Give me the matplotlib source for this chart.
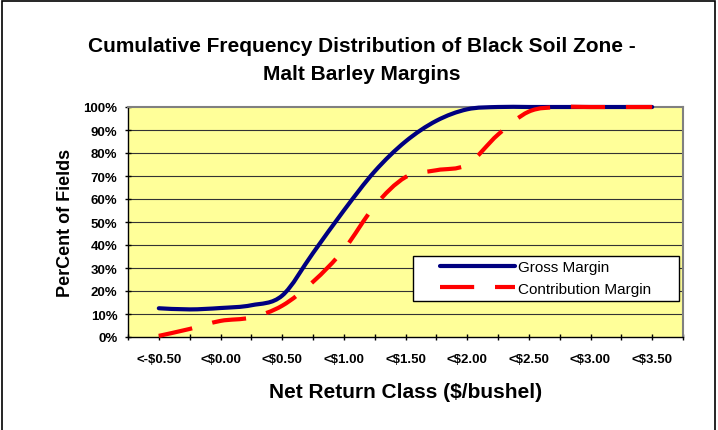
import matplotlib
matplotlib.use("Agg")
import matplotlib.pyplot as plt
from matplotlib.path import Path
from matplotlib.patches import PathPatch, Rectangle
from matplotlib.lines import Line2D

plt.rcParams.update({
    'font.family': ['Liberation Sans', 'DejaVu Sans'],
    'figure.facecolor': 'white',
})

# --- datos ---
clases = ['<-$0.50', '<-$0.25', '<$0.00', '<$0.25', '<$0.50', '<$0.75',
          '<$1.00', '<$1.25', '<$1.50', '<$1.75', '<$2.00', '<$2.25',
          '<$2.50', '<$2.75', '<$3.00', '<$3.25', '<$3.50']
gross = [12.5, 12.0, 12.6, 13.8, 18.0, 36.5, 55.0, 72.0, 85.0, 94.0,
         99.0, 100, 100, 100, 100, 100, 100]
contribution = [0.5, 3.5, 7.0, 8.5, 13.6, 24.0, 38.0, 57.0, 69.5, 72.5,
                75.0, 88.0, 98.0, 100, 100, 100, 100]
y_ticks = list(range(0, 101, 10))

NAVY = '#000080'
RED = '#FF0000'
DASH = (0, (8.2, 5.0))


def curva_suave(xs, ys):
    """Path bezier tipo Excel (Catmull-Rom) a traves de los puntos."""
    n = len(xs)
    pts = list(zip(xs, ys))
    verts = [pts[0]]
    codes = [Path.MOVETO]
    for i in range(n - 1):
        p0 = pts[max(i - 1, 0)]
        p1 = pts[i]
        p2 = pts[i + 1]
        p3 = pts[min(i + 2, n - 1)]
        c1 = (p1[0] + (p2[0] - p0[0]) / 6.0, p1[1] + (p2[1] - p0[1]) / 6.0)
        c2 = (p2[0] - (p3[0] - p1[0]) / 6.0, p2[1] - (p3[1] - p1[1]) / 6.0)
        verts += [c1, c2, p2]
        codes += [Path.CURVE4] * 3
    return Path(verts, codes)


W, H = 718, 431
fig = plt.figure(figsize=(W / 100, H / 100), dpi=100)
ax = fig.add_axes([128 / W, 1 - 338 / H, 555 / W, 230 / H])
ax.set_facecolor('#FFFF99')

x = list(range(len(clases)))

for yv in y_ticks[1:-1]:
    ax.axhline(yv, color='#333333', lw=0.8, zorder=1)

ax.add_patch(PathPatch(curva_suave(x, gross), facecolor='none', edgecolor=NAVY,
                       lw=3, clip_on=False, zorder=3, capstyle='round'))
ax.add_patch(PathPatch(curva_suave(x, contribution), facecolor='none', edgecolor=RED,
                       lw=3, linestyle=DASH, clip_on=False, zorder=4, capstyle='butt'))

ax.set_xlim(-1, len(clases))
ax.set_ylim(0, 100)
ax.set_xticks(range(-1, len(clases) + 1))
ax.set_xticklabels([''] + [c if i % 2 == 0 else '' for i, c in enumerate(clases)] + [''])
ax.set_yticks(y_ticks)
ax.set_yticklabels([f'{v}%' for v in y_ticks])
for lab in ax.get_xticklabels() + ax.get_yticklabels():
    lab.set_fontweight('bold')
    lab.set_fontsize(9.5)
ax.tick_params(axis='both', direction='inout', length=5, width=1, color='black')
ax.tick_params(axis='x', pad=9)
ax.tick_params(axis='y', pad=5)

for s in ['top', 'right']:
    ax.spines[s].set_color('#808080')
    ax.spines[s].set_linewidth(1.5)
for s in ['left', 'bottom']:
    ax.spines[s].set_color('black')
    ax.spines[s].set_linewidth(1)

ax.set_xlabel('Net Return Class ($/bushel)', fontsize=15, fontweight='bold', labelpad=12)
ax.set_ylabel('PerCent of Fields', fontsize=13, fontweight='bold', labelpad=7)

fig.text(0.504, 1 - 61 / H, 'Cumulative Frequency Distribution of Black Soil Zone -\nMalt Barley Margins',
         ha='center', va='center', fontsize=15, fontweight='bold', linespacing=1.6)

# leyenda: caja blanca y entradas sin marco
ax.add_patch(Rectangle((0.513, 0.158), 0.48, 0.193, transform=ax.transAxes,
                       facecolor='white', edgecolor='black', lw=1, zorder=5))
handles = [Line2D([], [], color=NAVY, lw=3, solid_capstyle='round'),
           Line2D([], [], color=RED, lw=3, linestyle=DASH, dash_capstyle='butt')]
leg = ax.legend(handles, ['Gross Margin', 'Contribution Margin'], loc='upper left',
                bbox_to_anchor=(0.562, 0.335), frameon=False, fontsize=11,
                handlelength=4.9, handletextpad=0.2, borderpad=0, borderaxespad=0,
                labelspacing=0.5)
leg.set_zorder(6)

# borde del area del grafico
fig.add_artist(Rectangle((2 / W, -0.05), 713 / W, 1.05 - 2 / H, transform=fig.transFigure,
                         facecolor='none', edgecolor='black', lw=1.2))

fig.savefig('out.png', dpi=100, facecolor='white')
